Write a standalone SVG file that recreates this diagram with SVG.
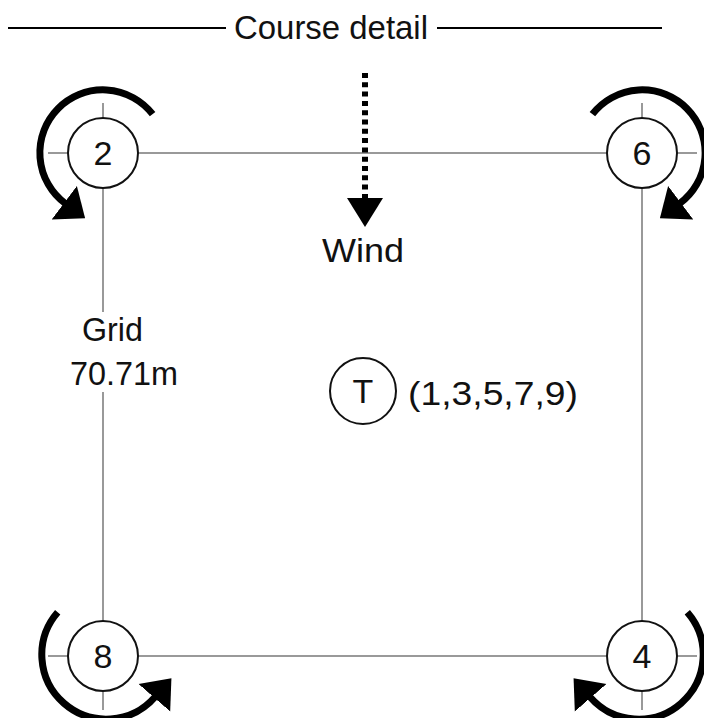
<svg xmlns="http://www.w3.org/2000/svg" width="704" height="718" viewBox="0 0 704 718">
<style>
text{font-family:"Liberation Sans",Arial,sans-serif;font-size:33px;fill:#111}
.num{font-size:34px}
.grid{stroke:#999;stroke-width:2;fill:none}
.node{fill:#fff;stroke:#111;stroke-width:2}
.rot{fill:none;stroke:#000;stroke-width:7}
</style>
<defs>
<marker id="ah" markerUnits="userSpaceOnUse" markerWidth="28" markerHeight="44" refX="1" refY="22" orient="auto" viewBox="0 0 28 44">
<path d="M0,1 L26,22 L0,43 Z" fill="#000"/>
</marker>
<marker id="wh" markerUnits="userSpaceOnUse" markerWidth="30" markerHeight="38" refX="1" refY="19" orient="auto" viewBox="0 0 30 38">
<path d="M0,1 L29,19 L0,37 Z" fill="#000"/>
</marker>
</defs>
<g id="title">
<line x1="8" y1="28" x2="226" y2="28" stroke="#000" stroke-width="2"/>
<text x="234" y="39" textLength="194" lengthAdjust="spacingAndGlyphs">Course detail</text>
<line x1="437" y1="28" x2="662" y2="28" stroke="#000" stroke-width="2"/>
</g>
<g id="connectors">
<line class="grid" x1="48" y1="153" x2="697" y2="153"/>
<line class="grid" x1="48" y1="656" x2="697" y2="656"/>
<line class="grid" x1="103" y1="103" x2="103" y2="710"/>
<line class="grid" x1="642" y1="103" x2="642" y2="710"/>
<path class="rot" d="M152.6,114.2 A63,63 0 1 0 65.1,203.3" marker-end="url(#ah)"/>
<path class="rot" d="M592.4,114.2 A63,63 0 1 1 679.9,203.3" marker-end="url(#ah)"/>
<path class="rot" d="M57.7,612.2 A64,64 0 1 0 155,697" marker-end="url(#ah)"/>
<path class="rot" d="M687.3,612.2 A64,64 0 1 1 590,697" marker-end="url(#ah)"/>
<line x1="365" y1="73" x2="365" y2="199" stroke="#000" stroke-width="6" stroke-dasharray="5 4.3" marker-end="url(#wh)"/>
</g>
<g id="n2"><circle class="node" cx="103" cy="153" r="35"/><text class="num" x="103" y="165" text-anchor="middle">2</text></g>
<g id="n6"><circle class="node" cx="642" cy="153" r="35"/><text class="num" x="642" y="165" text-anchor="middle">6</text></g>
<g id="n8"><circle class="node" cx="103" cy="656" r="35"/><text class="num" x="103" y="668" text-anchor="middle">8</text></g>
<g id="n4"><circle class="node" cx="642" cy="656" r="35"/><text class="num" x="642" y="668" text-anchor="middle">4</text></g>
<g id="wind"><text x="322" y="262" textLength="82" lengthAdjust="spacingAndGlyphs">Wind</text></g>
<g id="grid-label"><rect x="66" y="312" width="118" height="80" fill="#fff"/><text x="82" y="341" textLength="61" lengthAdjust="spacingAndGlyphs">Grid</text><text x="70" y="385" textLength="108" lengthAdjust="spacingAndGlyphs">70.71m</text></g>
<g id="nT"><circle class="node" cx="363" cy="391" r="33"/><text class="num" x="363" y="403" text-anchor="middle">T</text><text x="408" y="405" textLength="170" lengthAdjust="spacingAndGlyphs">(1,3,5,7,9)</text></g>
</svg>
